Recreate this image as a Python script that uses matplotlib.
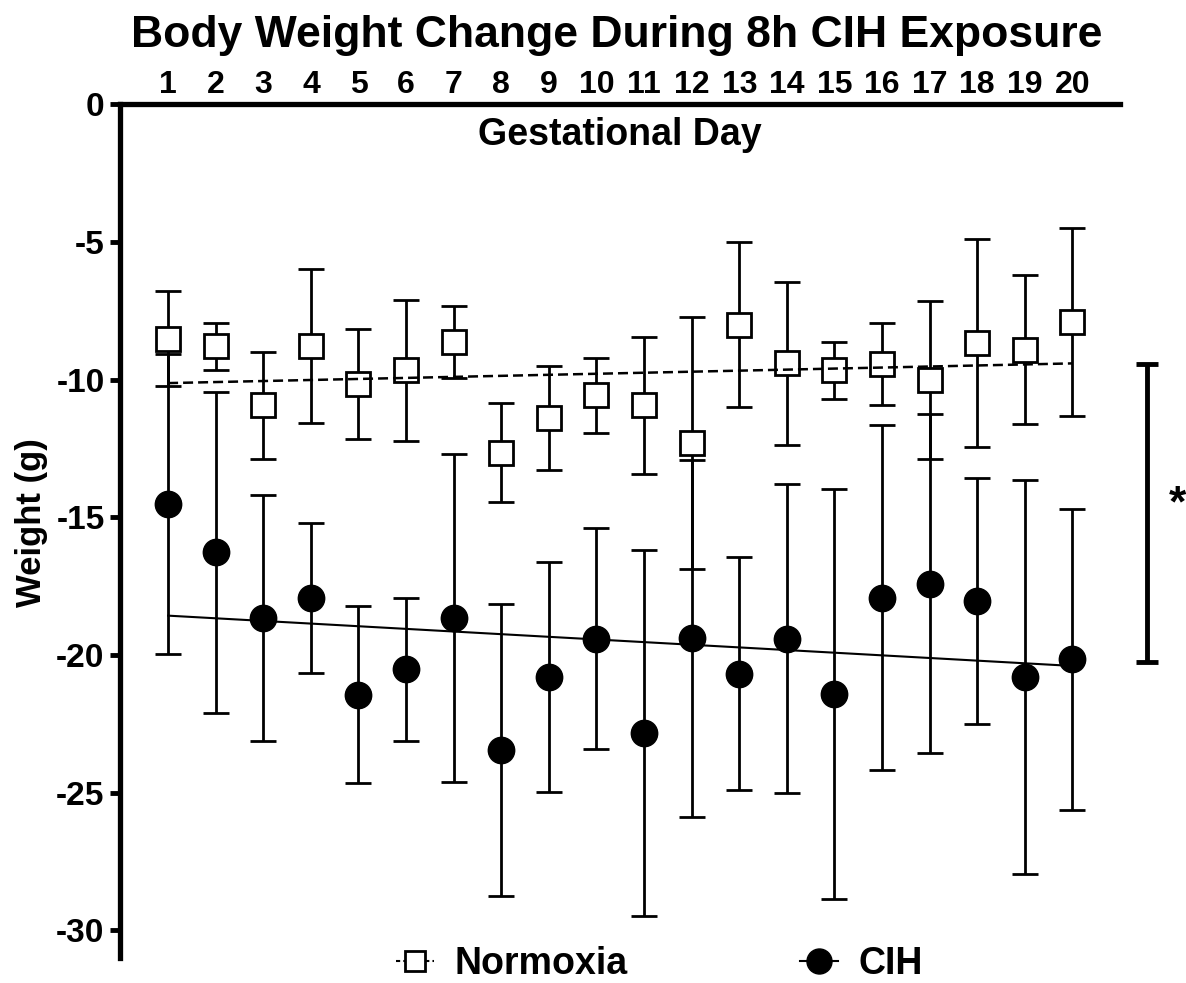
import numpy as np
import matplotlib.pyplot as plt
from matplotlib.lines import Line2D

plt.rcParams['font.family'] = ['Liberation Sans', 'DejaVu Sans']
plt.rcParams['font.weight'] = 'bold'
plt.rcParams['axes.unicode_minus'] = False

# gestational days
days = np.arange(1, 21)

# mean weight change (g) and error (symmetric)
norm_mean = [-8.50, -8.78, -10.93, -8.78, -10.15, -9.66, -8.63, -12.65, -11.40, -10.56,
             -10.93, -12.29, -8.00, -9.40, -9.66, -9.42, -10.00, -8.67, -8.91, -7.90]
norm_err = [1.72, 0.85, 1.93, 2.80, 2.00, 2.57, 1.30, 1.80, 1.89, 1.36,
            2.48, 4.58, 3.00, 2.97, 1.03, 1.50, 2.86, 3.78, 2.70, 3.42]

cih_mean = [-14.51, -16.27, -18.66, -17.91, -21.43, -20.52, -18.66, -23.43, -20.80, -19.40,
            -22.82, -19.39, -20.67, -19.40, -21.40, -17.91, -17.40, -18.03, -20.80, -20.15]
cih_err = [5.46, 5.84, 4.46, 2.72, 3.20, 2.58, 5.95, 5.30, 4.17, 4.02,
           6.65, 6.47, 4.24, 5.62, 7.44, 6.26, 6.17, 4.47, 7.16, 5.47]

# significance bracket (ends) and label
sig_y = [-9.42, -20.25]
sig_label = '*'

fig = plt.figure(figsize=(11.86, 9.83), dpi=100)
ax = fig.add_axes([0.1016, 0.0254, 0.8428, 0.8683])

lw = 2.0
# CIH
ax.errorbar(days, cih_mean, yerr=cih_err, fmt='o', color='black', ms=19,
            mfc='black', mec='black', ecolor='black', elinewidth=lw,
            capsize=9.6, capthick=lw, zorder=3)
# Normoxia
ax.errorbar(days, norm_mean, yerr=norm_err, fmt='s', color='black', ms=17,
            mfc='white', mec='black', mew=lw, ecolor='black', elinewidth=lw,
            capsize=9.6, capthick=lw, zorder=4)

# linear regression lines
xfit = np.array([days[0], days[-1]])
pn = np.polyfit(days, norm_mean, 1)
pc = np.polyfit(days, cih_mean, 1)
ax.plot(xfit, np.polyval(pn, xfit), color='black', lw=1.8, ls=(0, (4, 2)), zorder=5)
ax.plot(xfit, np.polyval(pc, xfit), color='black', lw=1.5, ls='-', zorder=2)

ax.set_xlim(0, 21)
ax.set_ylim(-31, 0)
ax.xaxis.tick_top()
ax.set_xticks(days)
ax.set_xticklabels([str(d) for d in days])
ax.set_yticks(np.arange(-30, 1, 5))
ax.tick_params(axis='x', length=0, pad=3, labelsize=23)
ax.tick_params(axis='y', direction='out', length=7.5, width=3.5, pad=4, labelsize=24)

for s in ['right', 'bottom']:
    ax.spines[s].set_visible(False)
for s in ['left', 'top']:
    ax.spines[s].set_linewidth(3.8)

ax.set_ylabel('Weight (g)', fontsize=25, fontweight='bold')
ax.yaxis.set_label_coords(-0.073, 0.51)

ax.text(10.5, -0.45, 'Gestational Day', ha='center', va='top', fontsize=27, fontweight='bold')

fig.text(0.52, 1 - 36 / 983, 'Body Weight Change During 8h CIH Exposure',
         ha='center', va='center', fontsize=32, fontweight='bold')

# significance bracket
xb = 21.57
ax.vlines(xb, sig_y[1], sig_y[0], color='black', lw=3.5, clip_on=False)
ax.hlines(sig_y, xb - 0.23, xb + 0.23, color='black', lw=3.5, clip_on=False)
ax.text(22.2, np.mean(sig_y) + 0.3, sig_label, ha='center', va='center', fontsize=32,
        fontweight='bold', clip_on=False)

handles = [
    Line2D([], [], color='black', ls=(0, (2, 1.5)), lw=1.5, marker='s', ms=15,
           mfc='white', mec='black', mew=2),
    Line2D([], [], color='black', ls='-', lw=1.5, marker='o', ms=18, mfc='black', mec='black'),
]
fig.legend(handles, ['Normoxia', 'CIH'], loc='center', bbox_to_anchor=(0.556, 0.019),
           ncol=2, frameon=False, prop={'size': 27, 'weight': 'bold'},
           handlelength=1.0, handletextpad=0.55, columnspacing=4.6)

fig.savefig('out.png', dpi=100)
